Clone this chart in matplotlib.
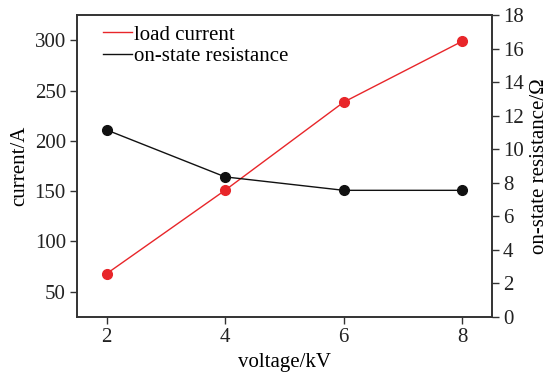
import matplotlib.pyplot as plt
from matplotlib.lines import Line2D

plt.rcParams['font.family'] = ['Liberation Serif', 'DejaVu Serif']
plt.rcParams['font.size'] = 15

voltage = [2, 4, 6, 8]
current = [68, 151, 238.5, 299]
resistance = [11.15, 8.35, 7.55, 7.55]

fig = plt.figure(figsize=(5.5, 3.76), dpi=100)
ax = fig.add_axes([0.14, 0.157, 0.7545, 0.803])
ax2 = ax.twinx()

ax.plot(voltage, current, color='#e8262a', lw=1, marker='o', ms=7)
ax2.plot(voltage, resistance, color='#111111', lw=1, marker='o', ms=7)

ax.set_xlim(1.5, 8.5)
ax.set_ylim(25, 325)
ax2.set_ylim(0, 18)
ax.set_xticks(voltage)
ax.set_yticks([50, 100, 150, 200, 250, 300])
ax2.set_yticks(range(0, 19, 2))

ax.set_xlabel('voltage/kV', labelpad=4)
ax.set_ylabel('current/A', labelpad=4)
ax2.set_ylabel('on-state resistance/Ω', labelpad=4)

for a in (ax, ax2):
    for s in a.spines.values():
        s.set_color('#333333')
        s.set_linewidth(1.2)
    a.tick_params(direction='out', length=5, width=1, pad=3,
                  colors='#333333', labelcolor='#222222')

h1 = Line2D([], [], color='#e8262a', lw=1)
h2 = Line2D([], [], color='#111111', lw=1)
ax.legend([h1, h2], ['load current', 'on-state resistance'], loc='upper left',
          frameon=False, handlelength=1.4, handletextpad=0.1, labelspacing=0.1,
          borderaxespad=0.2, bbox_to_anchor=(0.032, 1.008))

fig.savefig('out.png', dpi=100)
